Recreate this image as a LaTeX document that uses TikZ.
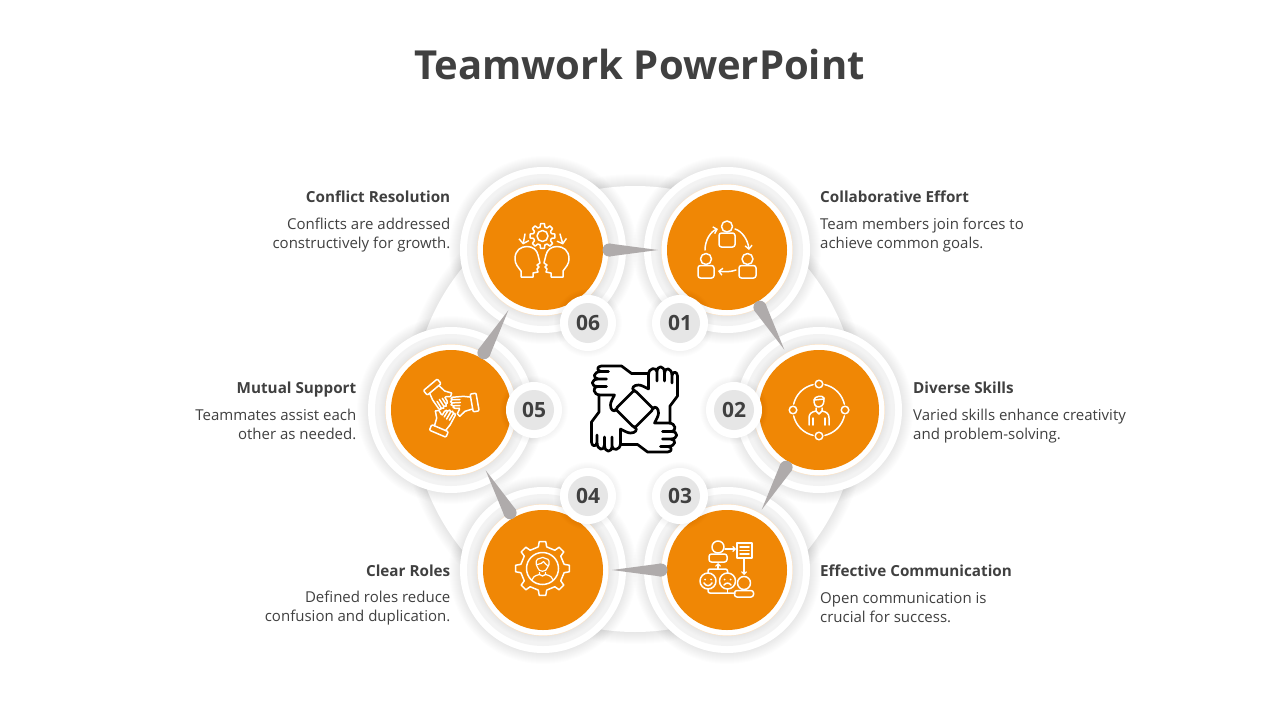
\documentclass[tikz,border=0pt]{standalone}
\usepackage{fontspec}
\setmainfont{Open Sans}
\usetikzlibrary{calc,arrows.meta}
\definecolor{ink}{HTML}{404040}
\definecolor{brand}{HTML}{F08705}
\definecolor{tearcol}{HTML}{AFABAB}
\definecolor{ringcol}{HTML}{F3F3F3}
\definecolor{badgecol}{HTML}{E6E6E6}
\tikzset{
  disc/.style={circle,fill=brand,draw=none,minimum size=120pt,inner sep=0pt,outer sep=0pt},
  badge/.style={circle,fill=badgecol,draw=none,minimum size=40pt,inner sep=0pt,outer sep=0pt,text=ink,font=\fontsize{21}{24}\selectfont\bfseries},
  heading/.style={text=ink,inner sep=0pt,font=\fontsize{15.25}{18}\selectfont\bfseries},
  bodytext/.style={text=ink,inner sep=0pt,font=\fontsize{15}{19}\selectfont},
  icon/.style={draw=white,line width=1.5pt,line cap=round,line join=round,fill=none},
  iconarrow/.style={icon,-{Straight Barb[length=3.5pt,width=7pt,line width=1.4pt]}},
  bigarrow/.style={icon,-{Straight Barb[length=4pt,width=10pt,line width=1.4pt]}},
  blackicon/.style={draw=black,line width=2.7pt,line cap=round,line join=round,fill=none},
}
\newcommand{\softshadow}[4]{%
  \foreach \k in {1,...,#3}{\fill[black,opacity=#4] (#1) circle ({#2+\k*1.0});}}
\newcommand{\ringset}[1]{%
  \softshadow{#1}{83}{11}{0.007}
  \fill[white] (#1) circle (83);
  \fill[ringcol] (#1) circle (76);
  \softshadow{#1}{66}{6}{0.006}
  \fill[brand!22!white] (#1) circle (66);
  \fill[white] (#1) circle (65.4);}
\newcommand{\badgering}[1]{%
  \softshadow{#1}{28}{6}{0.007}
  \fill[white] (#1) circle (28);}
\newcommand{\tear}[2]{%
  \coordinate (h) at ($(#1)!66pt!(#2)$);
  \coordinate (t) at ($(#1)!115pt!(#2)$);
  \fill[tearcol] (h) circle (6.5);
  \fill[tearcol] ($(h)!6.5pt!90:(t)$) -- (t) -- ($(h)!6.5pt!-90:(t)$) -- cycle;}
\newcommand{\gear}[5]{% teeth, outer, inner, half width outer, half width inner
  \draw[icon] \foreach \gi in {1,...,#1}{
     (\gi*360/#1-#5:#3) -- (\gi*360/#1-#4:#2) -- (\gi*360/#1+#4:#2) -- (\gi*360/#1+#5:#3)
     -- ({(\gi+1)*360/#1-#5}:#3)};}
\newcommand{\person}[5]{% cx cy head-r halfwidth bodyheight
  \draw[icon] (#1,#2) circle (#3);
  \draw[icon,rounded corners=2.5pt] ({#1-#4},{#2+#3+#5}) rectangle ({#1+#4},{#2+#3+1});}
\begin{document}
\begin{tikzpicture}[x=1pt,y=-1pt]
\useasboundingbox (0,0) rectangle (1280,720);
\fill[white] (0,0) rectangle (1280,720);
\node[text=ink,inner sep=0pt,font=\fontsize{40}{46}\selectfont\bfseries] (title) at (639.5,64) {Teamwork PowerPoint};

% big backdrop
\coordinate (c0) at (635,409);
\softshadow{c0}{223}{12}{0.007}
\fill[white] (c0) circle (223);

% ring centres
\coordinate (p1) at (727,250);
\coordinate (p2) at (819,410);
\coordinate (p3) at (727,570);
\coordinate (p4) at (543,570);
\coordinate (p5) at (451,410);
\coordinate (p6) at (543,250);
\ringset{p1}\ringset{p2}\ringset{p3}\ringset{p4}\ringset{p5}\ringset{p6}

\node[disc] (n1) at (p1) {};
\node[disc] (n2) at (p2) {};
\node[disc] (n3) at (p3) {};
\node[disc] (n4) at (p4) {};
\node[disc] (n5) at (p5) {};
\node[disc] (n6) at (p6) {};

% teardrop connectors
\tear{n6.center}{n1.center}
\tear{n1.center}{n2.center}
\tear{n2.center}{n3.center}
\tear{n3.center}{n4.center}
\tear{n4.center}{n5.center}
\tear{n5.center}{n6.center}

% number badges
\coordinate (q1) at (680,323);
\coordinate (q2) at (734,410);
\coordinate (q3) at (680,496);
\coordinate (q4) at (588,496);
\coordinate (q5) at (534,410);
\coordinate (q6) at (588,323);
\badgering{q1}\badgering{q2}\badgering{q3}\badgering{q4}\badgering{q5}\badgering{q6}
\node[badge] (b1) at (q1) {01};
\node[badge] (b2) at (q2) {02};
\node[badge] (b3) at (q3) {03};
\node[badge] (b4) at (q4) {04};
\node[badge] (b5) at (q5) {05};
\node[badge] (b6) at (q6) {06};

% icon 01
\begin{scope}[shift={(n1.center)}]
  \person{0}{-23.5}{5.5}{8}{15}
  \person{-21}{9}{5.5}{8}{13.5}
  \person{20.5}{9}{5.5}{8.5}{13.5}
  \draw[iconarrow] (-22,0) .. controls (-22,-10) and (-16,-19) .. (-9,-21);
  \draw[iconarrow] (8,-21) .. controls (15,-19) and (21,-10) .. (22,0);
  \draw[iconarrow] (9,20) .. controls (4,22) and (-3,22) .. (-9,21);
\end{scope}

% icon 06
\begin{scope}[shift={(n6.center)}]
  \begin{scope}[shift={(-0.5,-14)}]
    \gear{8}{12.5}{9.2}{9}{15}
    \draw[icon] (0,0) circle (5.5);
  \end{scope}
  \draw[bigarrow] (-18,-16) -- (-20,-5.5);
  \draw[bigarrow] (17,-16) -- (20,-5.5);
  \draw[icon] (-22,27) -- (-22,21) .. controls (-25,17) and (-28,14) .. (-28,9)
     .. controls (-28,0) and (-22,-3.5) .. (-16,-3.5) .. controls (-10,-3.5) and (-6,0) .. (-5,5)
     -- (-3,13) -- (-6,15) -- (-4,17) -- (-6,19) -- (-5,22) -- (-10,23) -- (-10,27) -- cycle;
  \draw[icon] (20,27) -- (20,21) .. controls (23,17) and (26,14) .. (26,9)
     .. controls (26,0) and (20,-3.5) .. (14,-3.5) .. controls (8,-3.5) and (4,0) .. (3,5)
     -- (1,13) -- (4,15) -- (2,17) -- (4,19) -- (3,22) -- (8,23) -- (8,27) -- cycle;
\end{scope}

% icon 02
\begin{scope}[shift={(n2.center)}]
  \foreach \a in {0,90,180,270}{\draw[icon] (\a:26) circle (3.8);}
  \foreach \a in {0,90,180,270}{\draw[icon] plot[domain=\a+13:\a+77,samples=14,smooth] (\x:26);}
  \draw[icon] (-5,-10) .. controls (-5,-14) and (4,-15) .. (5,-12) .. controls (5,-8) and (5,-4) .. (0,-3) .. controls (-4,-3) and (-5,-6) .. (-5,-10);
  \draw[icon] (-5,-10) -- (5,-11);
  \draw[icon] (-3,-2) -- (-3,1) -- (0,4) -- (3,1) -- (3,-2);
  \draw[icon] (-3,1) .. controls (-8,2) and (-10,4) .. (-10,8) -- (-10,15);
  \draw[icon] (3,1) .. controls (8,2) and (10,4) .. (10,8) -- (10,15);
  \draw[icon] (-6,8) -- (-6,15) (6,8) -- (6,15);
\end{scope}

% icon 05
\begin{scope}[shift={(n5.center)}]
  \foreach \r in {10,130,247}{
  \begin{scope}[shift={(-2,-3)},rotate=\r]
    \draw[icon,rounded corners=1pt] (23,-9) rectangle (29,9);
    \draw[icon] (23,-6) -- (16,-8) -- (5,-9)
       (5,-9) .. controls (3,-9) and (3,-6.5) .. (5,-6.5) -- (12,-5.5)
       (4,-6.5) .. controls (2,-6) and (2,-3.5) .. (4,-3.5) -- (12,-2.5)
       (4,-3.5) .. controls (2,-3) and (2,-0.5) .. (4,-0.5) -- (11,0.5)
       (5,-0.5) .. controls (3,0) and (4,2.5) .. (6,2.5) -- (10,3)
       (23,6) -- (15,7) -- (9,11) -- (7,8) -- (10,4);
  \end{scope}}
\end{scope}

% icon 03
\begin{scope}[shift={(n3.center)}]
  \person{-9}{-23}{6}{9}{9}
  \draw[icon,-{Straight Barb[length=2.5pt,width=5pt,line width=1.2pt]}] (-2,-21) -- (9,-21);
  \draw[icon] (10,-27) rectangle (25,-12);
  \draw[icon] (13,-23) -- (22,-23) (13,-19.5) -- (22,-19.5) (13,-16) -- (22,-16);
  \draw[icon,-{Straight Barb[length=2.5pt,width=5pt,line width=1.2pt]}] (17,-12) -- (17,5);
  \person{17}{13}{6.5}{9.5}{7.5}
  \draw[icon] (-19,11) circle (8) (0.5,11) circle (8);
  \fill[white] (-22,9.5) circle (1) (-16,9.5) circle (1) (-2.5,9.5) circle (1) (3.5,9.5) circle (1);
  \draw[icon] (-23,13) .. controls (-21,16.5) and (-17,16.5) .. (-15,13);
  \draw[icon] (-3,15) .. controls (-1,12.5) and (2,12.5) .. (4,15);
  \draw[icon,rounded corners=2pt] (-19,3) -- (-19,-1) -- (0.5,-1) -- (0.5,3);
  \draw[icon,-{Straight Barb[length=2.5pt,width=5pt,line width=1.2pt]}] (-9,-1) -- (-9,-7);
  \draw[icon,rounded corners=2pt] (-19,19) -- (-19,23) -- (8,23);
  \draw[icon] (0.5,19) -- (0.5,23);
\end{scope}

% icon 04
\begin{scope}[shift={(n4.center)}]
  \begin{scope}[shift={(-0.5,-1.5)}]
    \gear{8}{27}{22}{7}{11}
    \draw[icon] (0,0) circle (16);
    \draw[icon,line width=1.2pt] (-5,-1) .. controls (-8,-6) and (-6,-10) .. (-3,-10) .. controls (-1,-12) and (2,-11) .. (3,-10) .. controls (7,-10) and (8,-5) .. (5,-1) .. controls (4,4) and (-4,4) .. (-5,-1);
    \draw[icon,line width=1.2pt] (-5,-4) .. controls (-2,-4) and (0,-6) .. (1,-7) .. controls (2,-5) and (4,-4) .. (5,-3);
    \draw[icon,line width=1.2pt] (-3,4) -- (-3,6) .. controls (-8,7) and (-10,9) .. (-11,12);
    \draw[icon,line width=1.2pt] (3,4) -- (3,6) .. controls (8,7) and (10,9) .. (11,12);
    \draw[icon,line width=1.2pt] (-3,6) .. controls (-1,8) and (1,8) .. (3,6);
  \end{scope}
\end{scope}

% centre icon
\coordinate (cc) at (634.5,409);
\foreach \r in {0,-90,-180,-270}{
\begin{scope}[shift={(cc)},rotate=\r]
  \draw[blackicon] (35.5,14) -- (35.5,-3) -- (43,-13) -- (43,-33)
    .. controls (43,-38) and (37.5,-38) .. (37.5,-33) -- (37.5,-26)
    (37.5,-33) .. controls (37.5,-42) and (30,-42) .. (30,-36) -- (30,-28)
    (30,-36) .. controls (30,-44) and (22.5,-44) .. (22.5,-37) -- (22.5,-28)
    (22.5,-37) .. controls (22.5,-42) and (14,-42) .. (14,-34) -- (14,-20)
    .. controls (10,-22) and (7,-24) .. (4,-24)
    .. controls (-1,-24) and (-3,-21) .. (-1,-18.5) -- (2,-17) -- (19,0);
\end{scope}}

% labels, right
\node[heading,anchor=base west] (t1) at (820,202) {Collaborative Effort};
\node[bodytext,anchor=west,align=left] (d1) at (820,235) {Team members join forces to\\achieve common goals.};
\node[heading,anchor=base west] (t2) at (913,393) {Diverse Skills};
\node[bodytext,anchor=west,align=left] (d2) at (913,426) {Varied skills enhance creativity\\and problem-solving.};
\node[heading,anchor=base west] (t3) at (820,576) {Effective Communication};
\node[bodytext,anchor=west,align=left] (d3) at (820,607.5) {Open communication is\\crucial for success.};
% labels, left
\node[heading,anchor=base east] (t4) at (450.5,576) {Clear Roles};
\node[bodytext,anchor=east,align=right] (d4) at (450.5,608.5) {Defined roles reduce\\confusion and duplication.};
\node[heading,anchor=base east] (t5) at (356.5,393) {Mutual Support};
\node[bodytext,anchor=east,align=right] (d5) at (356.5,424) {Teammates assist each\\other as needed.};
\node[heading,anchor=base east] (t6) at (450.5,202) {Conflict Resolution};
\node[bodytext,anchor=east,align=right] (d6) at (450.5,235) {Conflicts are addressed\\constructively for growth.};
\end{tikzpicture}
\end{document}
